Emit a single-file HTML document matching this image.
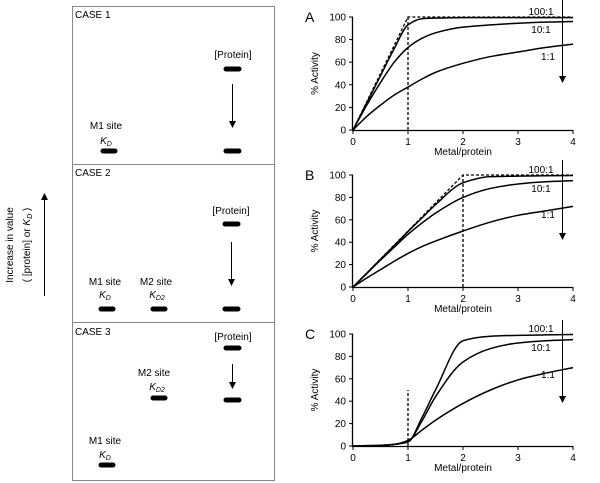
<!DOCTYPE html>
<html><head><meta charset="utf-8"><style>
body{margin:0;background:#fff;}
svg{display:block;font-family:"Liberation Sans",Arial,sans-serif;}
</style></head><body>
<svg id="fig" width="600" height="483" viewBox="0 0 600 483">
<g font-size="10">
<rect x="72.5" y="6.5" width="202" height="474" fill="none" stroke="#888"/>
<line x1="72" y1="164.5" x2="275" y2="164.5" stroke="#888"/>
<line x1="72" y1="322.5" x2="275" y2="322.5" stroke="#888"/>
<g stroke="#000" stroke-width="5" stroke-linecap="round">
<line x1="226" y1="69" x2="239" y2="69"/><line x1="226" y1="151" x2="239" y2="151"/><line x1="103" y1="151" x2="115" y2="151"/>
<line x1="225" y1="224" x2="238" y2="224"/><line x1="225" y1="309" x2="238" y2="309"/><line x1="101" y1="309" x2="113" y2="309"/><line x1="153" y1="309" x2="165" y2="309"/>
<line x1="226" y1="348" x2="239" y2="348"/><line x1="226" y1="400" x2="239" y2="400"/><line x1="153" y1="398" x2="165" y2="398"/><line x1="101" y1="465" x2="113" y2="465"/>
</g>
<g stroke="#000" stroke-width="1">
<line x1="232.5" y1="84" x2="232.5" y2="122"/><polygon points="229,121 236,121 232.5,128" fill="#000" stroke="none"/>
<line x1="231.5" y1="242" x2="231.5" y2="280"/><polygon points="228,279 235,279 231.5,286" fill="#000" stroke="none"/>
<line x1="232.5" y1="364" x2="232.5" y2="383"/><polygon points="229,382 236,382 232.5,389" fill="#000" stroke="none"/>
<line x1="44.5" y1="296" x2="44.5" y2="199"/><polygon points="41,200 48,200 44.5,193" fill="#000" stroke="none"/>
</g>
<text x="75" y="18">CASE 1</text>
<text x="75" y="176">CASE 2</text>
<text x="75" y="335">CASE 3</text>
<g text-anchor="middle">
<text x="233" y="58">[Protein]</text><text x="106" y="129">M1 site</text><text x="106" y="144" font-style="italic">K<tspan font-size="7" dy="2">D</tspan></text>
<text x="231" y="214">[Protein]</text><text x="105" y="285">M1 site</text><text x="105" y="298" font-style="italic">K<tspan font-size="7" dy="2">D</tspan></text>
<text x="156" y="285">M2 site</text><text x="157" y="298" font-style="italic">K<tspan font-size="7" dy="2">D2</tspan></text>
<text x="233" y="340">[Protein]</text><text x="154" y="376">M2 site</text><text x="157" y="390" font-style="italic">K<tspan font-size="7" dy="2">D2</tspan></text>
<text x="105" y="444">M1 site</text><text x="105" y="458" font-style="italic">K<tspan font-size="7" dy="2">D</tspan></text>
<text transform="translate(13,245) rotate(-90)">Increase in value</text>
<text transform="translate(30,245) rotate(-90)">( [protein] or <tspan font-style="italic">K</tspan><tspan font-size="7" font-style="italic" dy="2">D</tspan><tspan dy="-2"> )</tspan></text>
</g>
</g>
<g id="charts"></g>
</svg>
<script>
const xs = [0,0.25,0.5,0.75,1,1.25,1.5,2,2.5,3,3.5,4];
const ratioLabels = ["100:1","10:1","1:1"];
const yTicks = [0,20,40,60,80,100];
const xTicks = [0,1,2,3,4];
const panelNames = ["A","B","C"];
const a100 = [0,24,48,72,93,98.5,99,99.5,99.5,99.5,99.5,99.5];
const a10  = [0,22,42,60,73,81,86,91,93,94.5,95.5,96];
const a1   = [0,12,22,31,38,45,51,59,65,69,73,76];
const b100 = [0,12.3,24.7,37,49.5,61.5,73.5,93,98.5,99,99.3,99.5];
const b10  = [0,12,24,35.5,47,57,66,80,88,92,94,95];
const b1   = [0,8,15.5,23,30,36,41,50,58,64,68,72];
const c100 = [0,0.3,0.6,1.5,3.5,25,50,94,98,98.8,99.2,99.5];
const c10  = [0,0.3,0.6,1.5,4,22,44,75,87,92,94,95];
const c1   = [0,0.2,0.5,1.5,5,14,23,38,50,59,65,70];
const dashA = [[0,0],[1,100],[4,100]]; const vlineA = [1,100];
const dashB = [[0,0],[2,100],[4,100]]; const vlineB = [2,100];
const vlineC = [1,50];
const NS="http://www.w3.org/2000/svg";
const root=document.getElementById('charts');
function mk(t,a,p){const e=document.createElementNS(NS,t);for(const k in a)e.setAttribute(k,a[k]);(p||root).appendChild(e);return e;}
const panels=[
 {top:17,bot:130,series:[a100,a10,a1],dash:dashA,vl:vlineA,lab:[[541,15],[541,33],[548,60]],arrow:[0,83]},
 {top:175,bot:287,series:[b100,b10,b1],dash:dashB,vl:vlineB,lab:[[541,173],[541,192],[548,218]],arrow:[160,240]},
 {top:334,bot:446,series:[c100,c10,c1],dash:null,vl:vlineC,lab:[[541,332],[541,351],[548,378]],arrow:[320,403]}];
const x0=353,x4=573;
function monotone(pts){const n=pts.length,d=[],m=[];
 for(let i=0;i<n-1;i++)d.push((pts[i+1][1]-pts[i][1])/(pts[i+1][0]-pts[i][0]));
 m[0]=d[0];m[n-1]=d[n-2];
 for(let i=1;i<n-1;i++){if(d[i-1]*d[i]<=0)m[i]=0;else{const h0=pts[i][0]-pts[i-1][0],h1=pts[i+1][0]-pts[i][0];const w1=2*h1+h0,w2=h1+2*h0;m[i]=(w1+w2)/(w1/d[i-1]+w2/d[i]);}}
 let s="M"+pts[0][0]+","+pts[0][1];
 for(let i=0;i<n-1;i++){const h=(pts[i+1][0]-pts[i][0])/3;
  s+=" C"+(pts[i][0]+h)+","+(pts[i][1]+m[i]*h)+" "+(pts[i+1][0]-h)+","+(pts[i+1][1]-m[i+1]*h)+" "+pts[i+1][0]+","+pts[i+1][1];}
 return s;}
panels.forEach((P,pi)=>{
 const X=v=>x0+(x4-x0)*v/4, Y=v=>P.bot-(P.bot-P.top)*v/100;
 const g=mk('g',{});
 
 
 const ax=mk('path',{d:`M${x0-0.5},${P.top} V${P.bot+0.5} H${x4}`,fill:'none',stroke:'#000','stroke-width':1.3},g);
 
 
 yTicks.forEach(t=>{mk('line',{x1:x0-4,x2:x0,y1:Y(t),y2:Y(t),stroke:'#000'},g);
  const tx=mk('text',{x:x0-7,y:Y(t)+3.5,'text-anchor':'end','font-size':10},g);tx.textContent=t;
  
  });
 xTicks.forEach(t=>{mk('line',{x1:X(t),x2:X(t),y1:P.bot,y2:P.bot+4,stroke:'#000'},g);
  const tx=mk('text',{x:X(t),y:P.bot+15,'text-anchor':'middle','font-size':10},g);tx.textContent=t;
  
  });
 const xt=mk('text',{x:463,y:P.bot+25,'text-anchor':'middle','font-size':10},g);xt.textContent='Metal/protein';
 
 
 const yt=mk('text',{transform:`translate(318,${(P.top+P.bot)/2}) rotate(-90)`,'text-anchor':'middle','font-size':10},g);yt.textContent='% Activity';
 
 
 const pl=mk('text',{x:305,y:P.top+5,'font-size':14},g);pl.textContent=panelNames[pi];
 
 
 if(P.dash){const dl=mk('polyline',{points:P.dash.map(p=>X(p[0])+','+Y(p[1])).join(' '),fill:'none',stroke:'#000','stroke-width':1.3,'stroke-dasharray':'3,2'},g);
  
  }
 const vl=mk('line',{x1:X(P.vl[0]),x2:X(P.vl[0]),y1:Y(0),y2:Y(P.vl[1]),stroke:'#000','stroke-width':1.3,'stroke-dasharray':'3,2'},g);
 
 
 P.series.forEach((s,si)=>{const c=mk('path',{d:monotone(xs.map((x,i)=>[X(x),Y(s[i])])),fill:'none',stroke:'#000','stroke-width':1.5},g);
  
  
  const l=mk('text',{x:P.lab[si][0],y:P.lab[si][1],'text-anchor':'middle','font-size':10},g);l.textContent=ratioLabels[si];
  
  });
 const ar=mk('line',{x1:562.5,x2:562.5,y1:P.arrow[0],y2:P.arrow[1]-6,stroke:'#000','stroke-width':1},g);
 
 
 mk('polygon',{points:`559,${P.arrow[1]-7} 566,${P.arrow[1]-7} 562.5,${P.arrow[1]}`,fill:'#000'},g);
});
</script>
</body></html>
